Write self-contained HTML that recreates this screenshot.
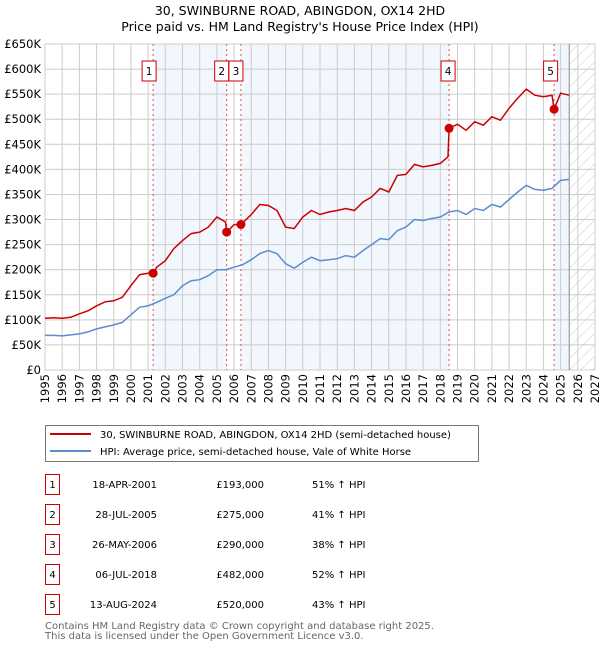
<!DOCTYPE html>
<html><head><meta charset="utf-8"><style>
body{margin:0;background:#fff;font-family:"DejaVu Sans","Liberation Sans",sans-serif;}
svg{display:block}
</style></head><body>
<svg id="chart" width="600" height="650" font-family="DejaVu Sans, Liberation Sans, sans-serif">
<text x="300" y="15" text-anchor="middle" font-size="12.5" fill="#000">30, SWINBURNE ROAD, ABINGDON, OX14 2HD</text>
<text x="300" y="31" text-anchor="middle" font-size="12.5" fill="#000">Price paid vs. HM Land Registry's House Price Index (HPI)</text>
<g id="plot"></g>
<g>
<rect x="45.5" y="425.5" width="433" height="36" fill="#fff" stroke="#777"/>
<line x1="50" y1="434" x2="91" y2="434" stroke="#cc0000" stroke-width="2"/>
<text x="100" y="438" font-size="10">30, SWINBURNE ROAD, ABINGDON, OX14 2HD (semi-detached house)</text>
<line x1="50" y1="451" x2="91" y2="451" stroke="#5b8ccf" stroke-width="2"/>
<text x="100" y="455" font-size="10">HPI: Average price, semi-detached house, Vale of White Horse</text>
</g>
<g id="table" font-size="10"></g>
<text x="45" y="629" font-size="10" fill="#666">Contains HM Land Registry data © Crown copyright and database right 2025.</text>
<text x="45" y="639" font-size="10" fill="#666">This data is licensed under the Open Government Licence v3.0.</text>
</svg>
<script>
const hpiYears=[1995,1995.5,1996,1996.5,1997,1997.5,1998,1998.5,1999,1999.5,2000,2000.5,2001,2001.5,2002,2002.5,2003,2003.5,2004,2004.5,2005,2005.5,2006,2006.5,2007,2007.5,2008,2008.5,2009,2009.5,2010,2010.5,2011,2011.5,2012,2012.5,2013,2013.5,2014,2014.5,2015,2015.5,2016,2016.5,2017,2017.5,2018,2018.5,2019,2019.5,2020,2020.5,2021,2021.5,2022,2022.5,2023,2023.5,2024,2024.5,2025,2025.5];
const hpiValues=[69,69,68,70,72,76,82,86,90,95,110,125,128,135,143,150,168,178,180,188,200,200,205,210,220,232,238,232,212,203,215,225,218,220,222,228,225,238,250,262,260,278,285,300,298,302,305,315,318,310,322,318,330,325,340,355,368,360,358,362,378,380];
const priceYears=[1995,1995.5,1996,1996.5,1997,1997.5,1998,1998.5,1999,1999.5,2000,2000.5,2001,2001.3,2001.5,2002,2002.5,2003,2003.5,2004,2004.5,2005,2005.5,2005.57,2006,2006.4,2007,2007.5,2008,2008.5,2009,2009.5,2010,2010.5,2011,2011.5,2012,2012.5,2013,2013.5,2014,2014.5,2015,2015.5,2016,2016.5,2017,2017.5,2018,2018.45,2018.51,2019,2019.5,2020,2020.5,2021,2021.5,2022,2022.5,2023,2023.5,2024,2024.5,2024.62,2025,2025.5];
const priceValues=[103,104,103,105,112,118,128,136,138,145,168,190,193,193,205,218,242,258,272,275,285,305,295,275,290,290,310,330,328,318,285,282,305,318,310,315,318,322,318,335,345,362,355,388,390,410,405,408,412,425,482,490,478,495,488,505,498,522,542,560,548,545,548,520,552,548];
const saleYears=[2001.29,2005.57,2006.4,2018.51,2024.62];
const saleValues=[193000,275000,290000,482000,520000];
const saleLabels=["1","2","3","4","5"];
const saleDates=["18-APR-2001","28-JUL-2005","26-MAY-2006","06-JUL-2018","13-AUG-2024"];
const salePcts=["51%","41%","38%","52%","43%"];
const yTicks=[0,50,100,150,200,250,300,350,400,450,500,550,600,650];
const xTicks=[1995,1996,1997,1998,1999,2000,2001,2002,2003,2004,2005,2006,2007,2008,2009,2010,2011,2012,2013,2014,2015,2016,2017,2018,2019,2020,2021,2022,2023,2024,2025,2026,2027];
const dataEnd=2025.5;

const X0=45,X1=595,Y0=370,Y1=44;
const xs=y=>X0+(y-1995)/(2027-1995)*(X1-X0);
const ys=v=>Y0-v/650*(Y0-Y1);
const NS="http://www.w3.org/2000/svg";
const plot=document.getElementById('plot');
function mk(tag,attrs,parent){const e=document.createElementNS(NS,tag);for(const k in attrs)e.setAttribute(k,attrs[k]);(parent||plot).appendChild(e);return e;}

const shade=[[saleYears[0],saleYears[1]],[saleYears[2],saleYears[3]],[saleYears[4],dataEnd]];
shade.forEach((s,i)=>{const r=mk('rect',{x:xs(s[0]),y:Y1,width:xs(s[1])-xs(s[0]),height:Y0-Y1,fill:'#eef3fc',opacity:0.75});

});
const defs=mk('defs',{});
const pat=mk('pattern',{id:'hatch',width:8,height:8,patternUnits:'userSpaceOnUse',patternTransform:'rotate(45)'},defs);
mk('line',{x1:0,y1:0,x2:0,y2:8,stroke:'#ccc','stroke-width':1},pat);
const hr=mk('rect',{x:xs(dataEnd),y:Y1,width:X1-xs(dataEnd),height:Y0-Y1,fill:'url(#hatch)'});


yTicks.forEach(t=>{const l=mk('line',{x1:X0,x2:X1,y1:ys(t),y2:ys(t),stroke:'#cccccc'});


const tx=mk('text',{x:X0-4,y:ys(t)+4,'text-anchor':'end','font-size':'11.5',fill:'#000'});
tx.textContent=t===0?'£0':'£'+t+'K';

});
xTicks.forEach(t=>{const l=mk('line',{x1:xs(t),x2:xs(t),y1:Y1,y2:Y0,stroke:'#cccccc'});


const tx=mk('text',{transform:`translate(${xs(t)+4},${Y0+4}) rotate(-90)`,'text-anchor':'end','font-size':'11.5',fill:'#000'});
tx.textContent=t;

});
const bd=mk('rect',{x:X0,y:Y1,width:X1-X0,height:Y0-Y1,fill:'none',stroke:'#cccccc'});


const el=mk('line',{x1:xs(dataEnd),x2:xs(dataEnd),y1:Y1,y2:Y0,stroke:'#888'});


saleYears.forEach((s,i)=>{const l=mk('line',{x1:xs(s),x2:xs(s),y1:Y1,y2:Y0,stroke:'#e05050','stroke-dasharray':'2,3'});

});
function path(xa,va){return xa.map((x,i)=>(i?'L':'M')+xs(x).toFixed(1)+','+ys(va[i]).toFixed(1)).join('');}
const hp=mk('path',{d:path(hpiYears,hpiValues),fill:'none',stroke:'#5b8ccf','stroke-width':1.5});


const pp=mk('path',{d:path(priceYears,priceValues),fill:'none',stroke:'#cc0000','stroke-width':1.5});


saleYears.forEach((s,i)=>{const c=mk('circle',{cx:xs(s),cy:ys(saleValues[i]/1000),r:4.5,fill:'#cc0000'});


const offs=[-4,-5,-5,-1,-3.5];
const bx=xs(s)+offs[i]-7;
const g=mk('g',{});


mk('rect',{x:bx,y:61,width:14,height:20,fill:'#fff',stroke:'#cc0000'},g);
const t=mk('text',{x:bx+7,y:75,'text-anchor':'middle','font-size':'10.5'},g);t.textContent=saleLabels[i];});
const tb=document.getElementById('table');
saleLabels.forEach((lab,i)=>{const y=485+i*30;
const g=mk('g',{},tb);


mk('rect',{x:45.5,y:y-10.5,width:14,height:20,fill:'#fff',stroke:'#cc0000'},g);
let t=mk('text',{x:52.5,y:y+3,'text-anchor':'middle'},g);t.textContent=lab;
t=mk('text',{x:157,y:y+3,'text-anchor':'end'},g);t.textContent=saleDates[i];
t=mk('text',{x:264,y:y+3,'text-anchor':'end'},g);t.textContent='£'+saleValues[i].toLocaleString('en-GB');
t=mk('text',{x:312,y:y+3},g);t.textContent=salePcts[i]+' ↑ HPI';});
</script>
</body></html>
